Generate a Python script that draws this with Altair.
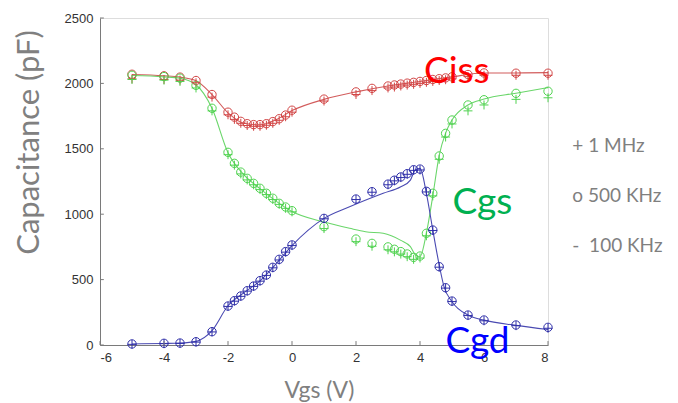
import altair as alt
import pandas as pd

# ---- data ----
x_pts = [-5, -4, -3.5, -3, -2.5, -2, -1.8, -1.6, -1.4, -1.2, -1.0, -0.8, -0.6, -0.4, -0.2, 0,
         1, 2, 2.5, 3, 3.2, 3.4, 3.6, 3.8, 4, 4.2, 4.4, 4.6, 4.8, 5, 5.5, 6, 7, 8]

ciss_500k = [2070, 2058, 2048, 2022, 1915, 1780, 1742, 1710, 1692, 1685, 1685, 1692, 1708, 1730, 1758, 1795,
             1880, 1935, 1962, 1980, 1988, 1995, 2002, 2008, 2015, 2022, 2030, 2036, 2042, 2050, 2068, 2080, 2078, 2078]
ciss_1m = [2035, 2030, 2025, 2005, 1895, 1760, 1725, 1695, 1678, 1672, 1672, 1680, 1695, 1718, 1745, 1780,
           1865, 1915, 1945, 1965, 1972, 1980, 1987, 1993, 2000, 2008, 2015, 2022, 2028, 2035, 2052, 2062, 2062, 2062]

cgs_500k = [2062, 2052, 2040, 1985, 1810, 1473, 1389, 1322, 1274, 1236, 1198, 1160, 1122, 1083, 1055, 1027,
            905, 810, 777, 750, 732, 714, 696, 670, 680, 854, 1160, 1445, 1618, 1720, 1835, 1875, 1924, 1940]
cgs_1m = [2030, 2025, 2015, 1965, 1790, 1455, 1375, 1308, 1262, 1225, 1188, 1150, 1112, 1075, 1045, 1018,
          890, 790, 755, 728, 712, 695, 675, 655, 665, 835, 1140, 1420, 1590, 1690, 1790, 1835, 1878, 1890]

cgd_500k = [8, 13, 15, 25, 102, 298, 339, 375, 415, 451, 492, 535, 594, 655, 714, 765,
            968, 1116, 1172, 1230, 1260, 1285, 1310, 1340, 1345, 1175, 879, 599, 438, 336, 229, 191, 153, 135]
cgd_1m = [5, 10, 12, 22, 100, 295, 335, 372, 412, 448, 488, 532, 590, 650, 710, 760,
          965, 1112, 1168, 1225, 1255, 1280, 1305, 1335, 1338, 1170, 875, 595, 435, 332, 225, 185, 148, 128]

# 100 KHz curves
ciss_line_x = [-5, -4, -3.5, -3, -2.5, -2, -1.5, -1, -0.5, 0, 1, 2, 3, 4, 5, 6, 7, 8]
ciss_100k = [2068, 2058, 2048, 2020, 1915, 1775, 1695, 1683, 1722, 1792, 1878, 1935, 1980, 2015, 2050, 2080, 2080, 2082]

cgs_line_x = [-5, -4, -3.5, -3, -2.5, -2, -1.5, -1, -0.5, 0, 1, 1.8, 2.3, 2.85, 3.4, 3.7, 3.85, 4,
              4.2, 4.4, 4.6, 4.8, 5, 5.5, 6, 7, 8]
cgs_100k = [2060, 2050, 2040, 1990, 1810, 1470, 1300, 1195, 1100, 1020, 940, 892, 866, 854, 800, 752, 690, 675,
            855, 1140, 1450, 1620, 1720, 1835, 1880, 1925, 1968]

cgd_line_x = [-5, -4, -3.5, -3, -2.5, -2, -1.5, -1, -0.5, 0, 1, 1.8, 2.85, 3.4, 3.7, 3.85, 4,
              4.2, 4.4, 4.6, 4.75, 5, 5.5, 6, 7, 8]
cgd_100k = [8, 12, 15, 28, 110, 300, 400, 490, 620, 760, 968, 1057, 1160, 1210, 1261, 1338, 1350,
            1160, 879, 612, 446, 331, 229, 190, 150, 118]

series_names = ["Ciss", "Cgs", "Cgd"]
marker_colors = ["#d24545", "#4fd24f", "#2e2ea8"]
line_colors = ["#d25c5c", "#6ad66a", "#4a4ab2"]

label_x = [5.15, 5.95, 5.8]
label_y = [2000, 1001, -64]
label_colors = ["#ff0000", "#00b050", "#0000ff"]

legend_texts = ["+ 1 MHz", "o 500 KHz", "-\u00a0\u00a0100 KHz"]
legend_x = [8.76, 8.76, 8.76]
legend_y = [1478, 1096, 713]

x_ticks = [-6, -4, -2, 0, 2, 4, 6, 8]
y_ticks = [0, 500, 1000, 1500, 2000, 2500]

# ---- tables ----
def long(vals_list, xs):
    rows = []
    for name, vals in zip(series_names, vals_list):
        for xv, yv in zip(xs, vals):
            rows.append({"Vgs": xv, "C": yv, "series": name})
    return pd.DataFrame(rows)

df_500k = long([ciss_500k, cgs_500k, cgd_500k], x_pts)
df_1m = long([ciss_1m, cgs_1m, cgd_1m], x_pts)

line_rows = []
for name, xs, vals in zip(series_names, [ciss_line_x, cgs_line_x, cgd_line_x], [ciss_100k, cgs_100k, cgd_100k]):
    for xv, yv in zip(xs, vals):
        line_rows.append({"Vgs": xv, "C": yv, "series": name})
df_line = pd.DataFrame(line_rows)

df_labels = pd.DataFrame({"Vgs": label_x, "C": label_y, "text": series_names, "series": series_names})
df_legend = pd.DataFrame({"Vgs": legend_x, "C": legend_y, "text": legend_texts})

df_xt = pd.DataFrame({"Vgs": x_ticks})
df_yt = pd.DataFrame({"C": y_ticks})

xscale = alt.Scale(domain=[-6, 8], nice=False, zero=False)
yscale = alt.Scale(domain=[0, 2500], nice=False)

x_enc = alt.X("Vgs:Q", scale=xscale, axis=alt.Axis(
    values=x_ticks, title="Vgs (V)", ticks=False, grid=False, labelFontSize=13,
    labelExpr="'' + datum.value",
    labelFont="Liberation Sans", labelColor="#333333", labelPadding=6,
    domainColor="#7a7a7a", titleFont="Lato", titleFontSize=23, titleFontWeight="normal",
    titleColor="#808080", titleX=219, titleY=52, titleBaseline="alphabetic", titleAlign="center"))
y_enc = alt.Y("C:Q", scale=yscale, axis=alt.Axis(
    values=y_ticks, title="Capacitance (pF)", ticks=False, grid=False, labelFontSize=13,
    labelExpr="'' + datum.value",
    labelFont="Liberation Sans", labelColor="#333333", labelPadding=7,
    domainColor="#7a7a7a", titleFont="Lato", titleFontSize=31, titleFontWeight="normal",
    titleColor="#808080", titleX=-71, titleY=124, titleAngle=-90, titleBaseline="middle",
    titleAlign="center"))

mcolor = alt.Color("series:N", scale=alt.Scale(domain=series_names, range=marker_colors), legend=None)
lcolor = alt.Color("series:N", scale=alt.Scale(domain=series_names, range=line_colors), legend=None)

lines = alt.Chart(df_line).mark_line(interpolate="monotone", strokeWidth=1.1).encode(
    x=x_enc, y=y_enc, color=lcolor, detail="series:N")

circles = alt.Chart(df_500k).mark_point(shape="circle", filled=False, size=70, strokeWidth=1, opacity=1).encode(
    x="Vgs:Q", y="C:Q", color=mcolor)

plus = alt.Chart(df_1m).mark_point(shape="M-1,0L1,0M0,-1L0,1", filled=False, size=80, strokeWidth=1, opacity=1).encode(
    x="Vgs:Q", y="C:Q", color=mcolor)

xticks_layer = alt.Chart(df_xt).mark_rule(color="#7a7a7a", strokeWidth=1).encode(
    x="Vgs:Q", y=alt.datum(0), y2=alt.datum(30))
yticks_layer = alt.Chart(df_yt).mark_rule(color="#7a7a7a", strokeWidth=1).encode(
    y="C:Q", x=alt.datum(-6), x2=alt.datum(-5.88))

labels = alt.Chart(df_labels).mark_text(font="Lato", fontSize=37, align="center", baseline="alphabetic").encode(
    x="Vgs:Q", y="C:Q", text="text:N",
    color=alt.Color("series:N", scale=alt.Scale(domain=series_names, range=label_colors), legend=None))

legend = alt.Chart(df_legend).mark_text(font="Lato", fontSize=19, align="left", baseline="alphabetic",
                                        color="#7f7f7f").encode(x="Vgs:Q", y="C:Q", text="text:N")

chart = alt.layer(lines, circles, plus, xticks_layer, yticks_layer, labels, legend).resolve_scale(
    color="independent").properties(
    width=448, height=327,
    autosize=alt.AutoSizeParams(type="none"),
    padding={"left": 92, "top": 10, "right": 122, "bottom": 58},
).configure_view(stroke=None).configure(background="white")

chart.save("out.html", embed_options={"renderer": "svg", "actions": False})
